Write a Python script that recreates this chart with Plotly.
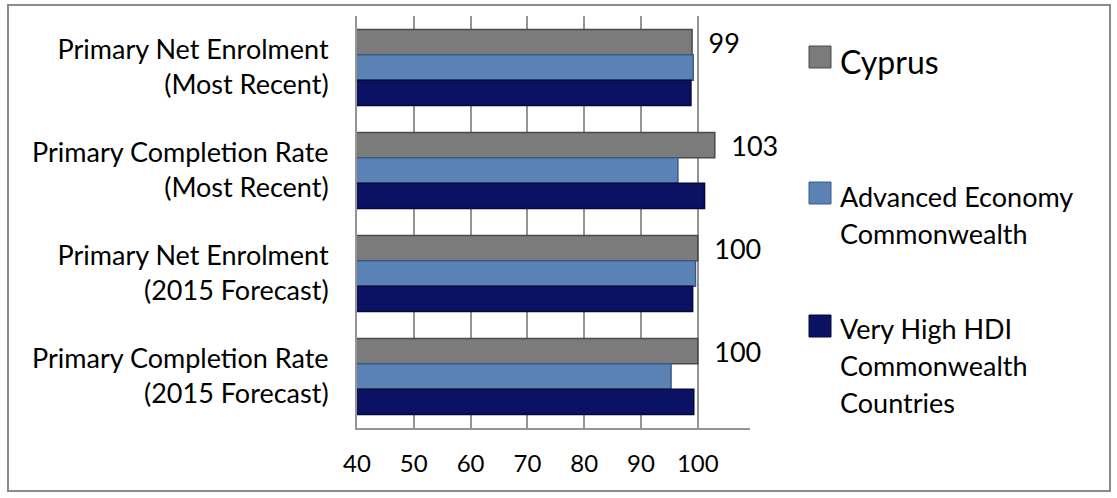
import plotly.graph_objects as go

categories = [
    "Primary Net Enrolment<br>(Most Recent)",
    "Primary Completion Rate<br>(Most Recent)",
    "Primary Net Enrolment<br>(2015 Forecast)",
    "Primary Completion Rate<br>(2015 Forecast)",
]
series_names = ["Cyprus", "Advanced Economy<br>Commonwealth", "Very High HDI<br>Commonwealth<br>Countries"]
cyprus = [99, 103, 100, 100]
advanced = [99.2, 96.5, 99.6, 95.3]
very_high = [98.8, 101.2, 99.1, 99.3]
x_ticks = [40, 50, 60, 70, 80, 90, 100]

colors = ["#7b7b7b", "#5a82b4", "#0b1163"]
edge_colors = ["#4a4a4a", "#3a5a86", "#05083a"]
FONT = "Lato"

W, H = 1117, 498
L, R, T, B = 357, 750, 16, 428


def px_x(px):
    return (px - L) / (R - L)


def px_y(py):
    return (B - py) / (B - T)


fig = go.Figure()
for name, vals, c, ec, show_text in zip(series_names, [cyprus, advanced, very_high], colors, edge_colors, [True, False, False]):
    fig.add_trace(go.Bar(
        y=categories, x=vals, orientation="h", name=name,
        marker=dict(color=c, line=dict(color=ec, width=1.5)),
        text=[f"\u2002{v:g}" for v in vals] if show_text else None,
        textposition="outside" if show_text else "none",
        constraintext="none",
        textfont=dict(family=FONT, size=27, color="#000000"),
        cliponaxis=False,
        showlegend=False,
    ))

fig.update_layout(
    width=W, height=H,
    margin=dict(l=L, r=W - R, t=T, b=H - B),
    paper_bgcolor="white", plot_bgcolor="white",
    barmode="group", bargap=0.26, bargroupgap=0,
    font=dict(family=FONT, size=24, color="#000000"),
    xaxis=dict(
        range=[40, 109.2], tickvals=x_ticks, ticktext=[str(t) for t in x_ticks],
        showgrid=True, gridcolor="#959595", gridwidth=2,
        showline=True, linecolor="#959595", linewidth=2,
        ticks="", ticklabelstandoff=13, zeroline=False,
        tickfont=dict(family=FONT, size=24),
    ),
    yaxis=dict(
        autorange="reversed", showgrid=False,
        showline=True, linecolor="#959595", linewidth=2,
        ticks="", ticklabelstandoff=21,
        tickfont=dict(family=FONT, size=27),
    ),
)

# outer frame
fig.add_shape(type="rect", xref="paper", yref="paper",
              x0=px_x(8), x1=px_x(1110), y0=px_y(491), y1=px_y(5),
              line=dict(color="#8a8a8a", width=2), fillcolor="rgba(0,0,0,0)")

# legend (manual): (name, marker centre y px, first text line centre y px, font size)
legend_items = [
    (series_names[0], 57, 62, 32),
    (series_names[1], 193, 196, 27),
    (series_names[2], 326, 328, 27),
]
LINE_GAP = 37
for (name, ym, yt, fs), c, ec in zip(legend_items, colors, edge_colors):
    fig.add_shape(type="rect", xref="paper", yref="paper",
                  x0=px_x(809), x1=px_x(831), y0=px_y(ym + 11), y1=px_y(ym - 11),
                  fillcolor=c, line=dict(color=ec, width=1))
    for i, line in enumerate(name.split("<br>")):
        fig.add_annotation(xref="paper", yref="paper", x=px_x(838), y=px_y(yt + i * LINE_GAP),
                           xanchor="left", yanchor="middle", align="left", showarrow=False,
                           text=line, font=dict(family=FONT, size=fs, color="#000000"))

fig.write_html("out.html", config={"displayModeBar": False},
               post_script="document.body.style.margin='0';")
